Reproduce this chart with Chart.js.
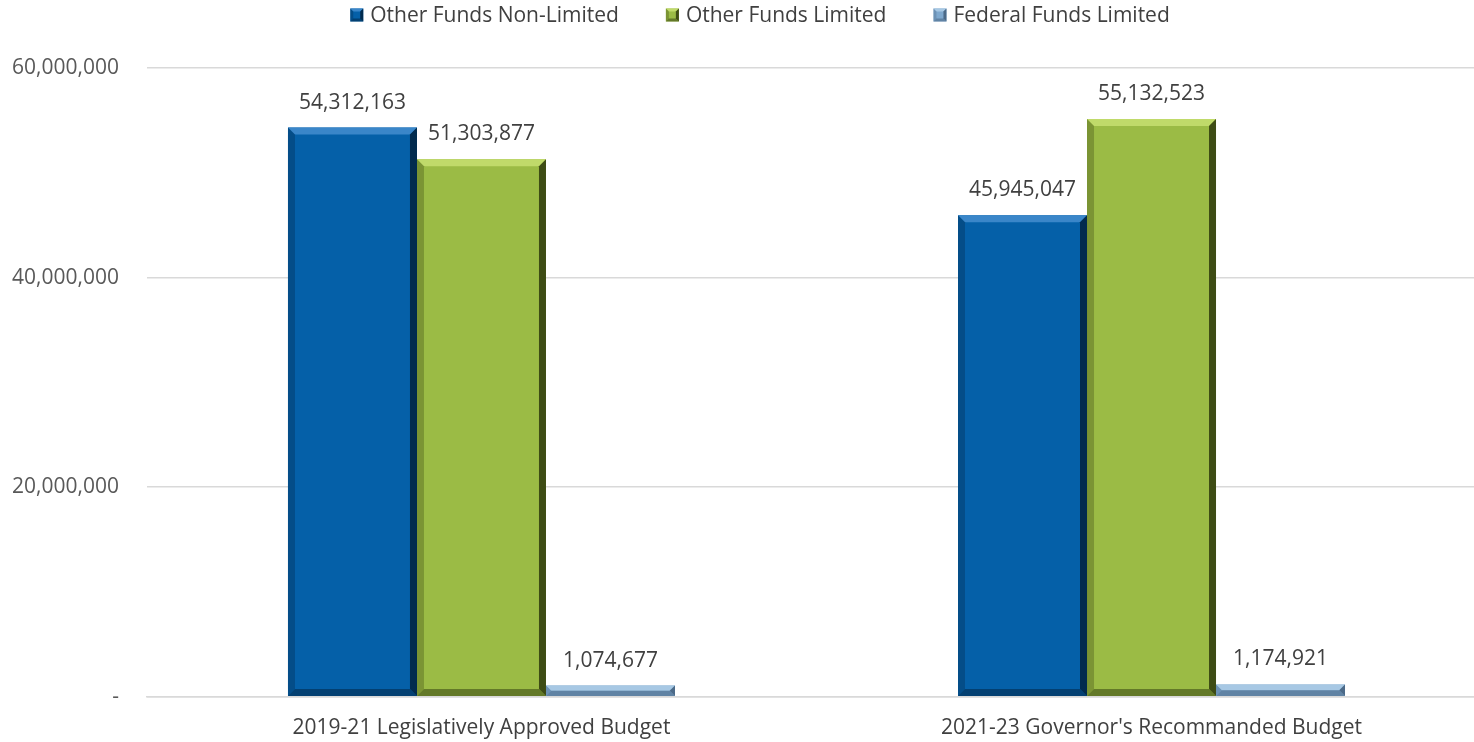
<!DOCTYPE html>
<html>
<head>
<meta charset="utf-8">
<script src="https://cdn.jsdelivr.net/npm/chart.js@4.4.1/dist/chart.umd.min.js"></script>
<style>
  html, body { margin: 0; padding: 0; background: #fff; }
  #wrap { width: 1474px; height: 742px; }
</style>
</head>
<body>
<div id="wrap"><canvas id="chart" width="1474" height="742"></canvas></div>
<script>
const categories = ['2019-21 Legislatively Approved Budget', "2021-23 Governor's Recommanded Budget"];
const seriesNames = ['Other Funds Non-Limited', 'Other Funds Limited', 'Federal Funds Limited'];
const nonLimited = [54312163, 45945047];
const limited = [51303877, 55132523];
const federal = [1074677, 1174921];
const yTicks = [0, 20000000, 40000000, 60000000];

const colors = ['#0560A8', '#9BBB45', '#7EA8CE'];
const lightColors = ['#3A86C9', '#C0DA6A', '#A7C8E4'];
const darkColors = ['#022B4E', '#3E4C15', '#4C6A88'];
const FONT = '"Open Sans", sans-serif';

const fmt = (v) => v.toLocaleString('en-US');

function bevelRect(ctx, l, t, r, b, d, i) {
  ctx.save();
  ctx.fillStyle = lightColors[i];
  ctx.beginPath();
  ctx.moveTo(l, t); ctx.lineTo(r, t); ctx.lineTo(r - d, t + d); ctx.lineTo(l + d, t + d);
  ctx.closePath(); ctx.fill();
  ctx.fillStyle = darkColors[i];
  ctx.globalAlpha = 0.35;
  ctx.beginPath();
  ctx.moveTo(l, t); ctx.lineTo(l + d, t + d); ctx.lineTo(l + d, b - d); ctx.lineTo(l, b);
  ctx.closePath(); ctx.fill();
  ctx.globalAlpha = 1;
  ctx.beginPath();
  ctx.moveTo(r, t); ctx.lineTo(r, b); ctx.lineTo(r - d, b - d); ctx.lineTo(r - d, t + d);
  ctx.closePath(); ctx.fill();
  ctx.globalAlpha = 0.6;
  ctx.beginPath();
  ctx.moveTo(l, b); ctx.lineTo(r, b); ctx.lineTo(r - d, b - d); ctx.lineTo(l + d, b - d);
  ctx.closePath(); ctx.fill();
  ctx.restore();
}

// bevel look, drawn over each bar from its element geometry
const bevel = {
  id: 'bevel',
  afterDatasetsDraw(chart) {
    chart.data.datasets.forEach((ds, i) => {
      chart.getDatasetMeta(i).data.forEach((bar) => {
        const l = bar.x - bar.width / 2, r = bar.x + bar.width / 2;
        const d = Math.min(7, (bar.base - bar.y) / 2);
        bevelRect(chart.ctx, l, bar.y, r, bar.base, d, i);
      });
    });
  }
};

const valueLabels = {
  id: 'valueLabels',
  afterDatasetsDraw(chart) {
    const ctx = chart.ctx;
    ctx.save();
    ctx.font = '21px ' + FONT;
    ctx.fillStyle = '#404040';
    ctx.textAlign = 'center';
    ctx.textBaseline = 'middle';
    chart.data.datasets.forEach((ds, i) => {
      chart.getDatasetMeta(i).data.forEach((bar, j) => {
        ctx.fillText(fmt(ds.data[j]), bar.x, bar.y - 25);
      });
    });
    ctx.restore();
  }
};

// legend drawn by hand so it can sit tight against the top edge
const topLegend = {
  id: 'topLegend',
  afterDraw(chart) {
    const ctx = chart.ctx;
    ctx.save();
    ctx.font = '21px ' + FONT;
    const box = 13, gapText = 7, gapItem = 47;
    const widths = seriesNames.map((n) => box + gapText + ctx.measureText(n).width);
    const total = widths.reduce((a, b) => a + b, 0) + gapItem * (seriesNames.length - 1);
    let x = 760 - total / 2;
    const y = 15;
    ctx.textBaseline = 'middle';
    seriesNames.forEach((n, i) => {
      ctx.fillStyle = colors[i];
      ctx.fillRect(x, y - box / 2, box, box);
      bevelRect(ctx, x, y - box / 2, x + box, y + box / 2, 3, i);
      ctx.fillStyle = '#404040';
      ctx.fillText(n, x + box + gapText, y + 1);
      x += widths[i] + gapItem;
    });
    ctx.restore();
  }
};

new Chart(document.getElementById('chart'), {
  type: 'bar',
  data: {
    labels: categories,
    datasets: [
      { label: seriesNames[0], data: nonLimited, backgroundColor: colors[0] },
      { label: seriesNames[1], data: limited, backgroundColor: colors[1] },
      { label: seriesNames[2], data: federal, backgroundColor: colors[2] },
    ],
  },
  options: {
    responsive: false,
    animation: false,
    layout: { padding: { left: -16, right: 0, top: 68, bottom: -10 } },
    datasets: { bar: { categoryPercentage: 0.5776, barPercentage: 1.0 } },
    plugins: {
      legend: { display: false },
      tooltip: { enabled: false },
    },
    scales: {
      x: {
        // the original plot runs a little past the right edge; widen the category band
        afterBuildTicks: (axis) => { axis._startValue = -0.4993; axis._valueRange = 1.9806; },
        grid: { display: false },
        border: { color: '#d9d9d9', width: 1.5 },
        ticks: { color: '#404040', font: { family: FONT, size: 21 }, padding: 11 },
      },
      y: {
        min: 0,
        max: 60000000,
        afterBuildTicks: (axis) => { axis.ticks = yTicks.map((v) => ({ value: v })); },
        grid: { color: '#d9d9d9', lineWidth: 1.5, drawTicks: false },
        border: { display: false },
        ticks: {
          color: '#595959',
          padding: 28,
          font: { family: FONT, size: 21 },
          callback: (v) => (v === 0 ? '-' : fmt(v)),
        },
      },
    },
  },
  plugins: [bevel, valueLabels, topLegend],
});
</script>
</body>
</html>
